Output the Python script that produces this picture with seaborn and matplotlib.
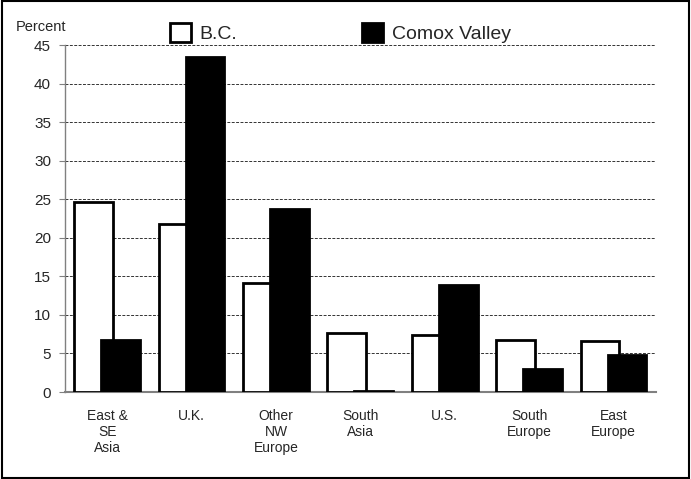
import matplotlib
matplotlib.use("Agg")
import matplotlib.pyplot as plt
import seaborn as sns
import pandas as pd
from matplotlib.patches import Rectangle

categories = ["East &\nSE\nAsia", "U.K.", "Other\nNW\nEurope", "South\nAsia", "U.S.", "South\nEurope", "East\nEurope"]
series_names = ["B.C.", "Comox Valley"]
bc_values = [24.7, 21.8, 14.2, 7.7, 7.4, 6.8, 6.6]
comox_values = [6.7, 43.5, 23.7, 0.1, 13.9, 3.0, 4.8]
y_ticks = [0, 5, 10, 15, 20, 25, 30, 35, 40, 45]

df = pd.DataFrame({
    "region": categories * 2,
    "series": [series_names[0]] * len(categories) + [series_names[1]] * len(categories),
    "value": bc_values + comox_values,
})

sns.set_theme(style="white")
plt.rcParams["font.family"] = ["Liberation Sans", "DejaVu Sans"]

fig = plt.figure(figsize=(6.91, 4.79), dpi=100)
ax = fig.add_axes([0.094, 0.1816, 0.855, 0.7244])

sns.barplot(data=df, x="region", y="value", hue="series", order=categories,
            hue_order=series_names, palette=["white", "black"], width=0.64,
            edgecolor="black", linewidth=2, ax=ax, legend=True, zorder=3)

# widen bars so that they overlap as in the reference
new_w = 0.46
for p in ax.patches:
    if p.get_height() == 0 and p.get_width() == 0:
        continue
    cx = p.get_x() + p.get_width() / 2
    p.set_width(new_w)
    p.set_x(cx - new_w / 2)

ax.set_xlim(-0.5, 6.5)
ax.set_ylim(0, 45)
ax.set_yticks(y_ticks)
ax.set_yticklabels([str(t) for t in y_ticks], fontsize=11)
ax.tick_params(axis="y", which="both", left=True, length=4, width=0.8, color="gray", pad=6)
ax.tick_params(axis="x", length=0, pad=12, labelsize=10)
ax.set_xlabel("")
ax.set_ylabel("")

for t in y_ticks[1:]:
    ax.axhline(t, color="#333333", lw=0.7, ls=(0, (3, 1.5)), zorder=1)

for s in ["top", "right"]:
    ax.spines[s].set_visible(False)
ax.spines["left"].set_color("gray")
ax.spines["left"].set_linewidth(1.0)
ax.spines["bottom"].set_color("gray")
ax.spines["bottom"].set_linewidth(1.5)
ax.spines["bottom"].set_zorder(0.5)

handles, labels = ax.get_legend_handles_labels()
ax.legend(handles, labels, loc="center left", bbox_to_anchor=(0.243, 0.931),
          bbox_transform=fig.transFigure, ncol=2, frameon=False, fontsize=14,
          handlelength=1.08, handleheight=1.08, handletextpad=0.45, columnspacing=6.4,
          borderpad=0.1, borderaxespad=0)

fig.text(0.023, 0.935, "Percent", fontsize=10.5, ha="left", va="baseline")

fig.patches.append(Rectangle((0.003, 0.002), 0.994, 0.996, transform=fig.transFigure,
                             fill=False, edgecolor="black", lw=1.5, zorder=10))

fig.savefig("out.png", dpi=100)
